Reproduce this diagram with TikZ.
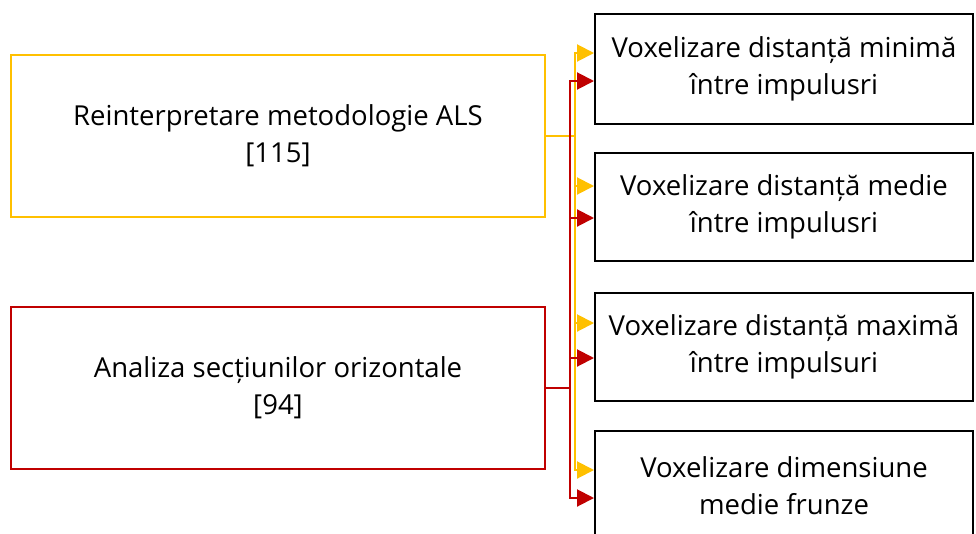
\documentclass[tikz,border=0pt]{standalone}
\usepackage{fontspec}
\setmainfont{Open Sans}
\usetikzlibrary{arrows.meta,calc}
\definecolor{gold}{HTML}{FFC000}
\definecolor{crimson}{HTML}{C00000}
\begin{document}
\begin{tikzpicture}[x=1pt,y=-1pt,
  srcbox/.style={draw,line width=1.3pt,minimum width=534pt,minimum height=162pt,
    align=center,font=\fontsize{27.5}{37}\selectfont,inner sep=0pt},
  dstbox/.style={draw=black,line width=2pt,minimum width=378pt,
    align=center,font=\fontsize{27.5}{37}\selectfont,inner sep=0pt},
  link/.style={line width=2pt,-{Triangle[length=17pt,width=17pt]}},
  ylink/.style={link,draw=gold},
  rlink/.style={link,draw=crimson}]
\useasboundingbox (0,0) rectangle (976,533);

% source boxes
\node[srcbox,draw=gold] (als) at (278,136) {Reinterpretare metodologie ALS\\{}[115]};
\node[srcbox,draw=crimson] (sec) at (278,388) {Analiza secțiunilor orizontale\\{}[94]};

% target boxes
\node[dstbox,minimum height=110pt] (v1) at (784,69) {Voxelizare distanță minimă\\între impulusri};
\node[dstbox,minimum height=108pt] (v2) at (784,207) {Voxelizare distanță medie\\între impulusri};
\node[dstbox,minimum height=108pt] (v3) at (784,347) {Voxelizare distanță maximă\\între impulsuri};
\node[dstbox,minimum height=110pt] (v4) at (784,486) {Voxelizare dimensiune\\medie frunze};

% trunk positions
\coordinate (ytr) at (575,0);
\coordinate (rtr) at (570,0);

% yellow connectors
\foreach \t/\dy in {v1/-16,v2/-21,v3/-24,v4/-16}{
  \draw[ylink] (als.east) -| (ytr |- {$(\t.west)+(0,\dy)$}) -- ($(\t.west)+(0,\dy)$);
}
% red connectors
\foreach \t/\dy in {v1/12,v2/11,v3/11,v4/12}{
  \draw[rlink] (sec.east) -| (rtr |- {$(\t.west)+(0,\dy)$}) -- ($(\t.west)+(0,\dy)$);
}
\end{tikzpicture}
\end{document}
